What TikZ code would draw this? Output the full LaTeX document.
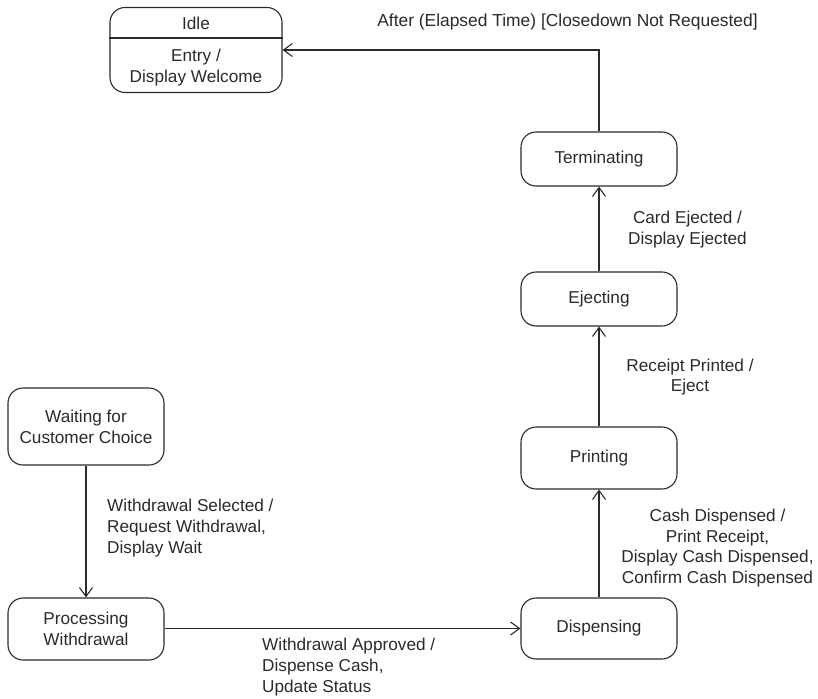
\documentclass[tikz,border=0pt]{standalone}
\usepackage{fontspec}
\setmainfont{Liberation Sans}
\usetikzlibrary{arrows.meta}
\definecolor{ink}{HTML}{2A2A2A}
\begin{document}
\begin{tikzpicture}[x=1pt,y=-1pt,
  every node/.style={font=\fontsize{17.2}{20.7}\selectfont, text=ink},
  statebox/.style={draw=ink, line width=1.1pt, rounded corners=15pt, minimum width=156pt, minimum height=55pt, align=center, inner sep=0pt},
  lbl/.style={align=center, inner sep=0pt},
  lbll/.style={align=left, inner sep=0pt, anchor=west},
  arr/.style={draw=ink, line width=1.1pt, -{Straight Barb[length=9pt,width=13pt,line width=1.1pt]}}]
\useasboundingbox (0,0) rectangle (818,698);
% Idle
\node[statebox, minimum width=172pt, minimum height=85pt] (idle) at (196,50) {};
\node[lbl] (idletitle) at (196,23) {Idle};
\node[lbl] (idleentry) at (196,67.5) {Entry /\\Display Welcome};
\draw[ink, line width=1.1pt] (idle.west |- 0,38) coordinate (dl) -- (idle.east |- 0,38) coordinate (dr);
% states
\node[statebox, minimum height=54pt] (term) at (599,159) {Terminating};
\node[statebox, minimum height=54pt] (eject) at (599,299) {Ejecting};
\node[statebox, minimum height=62pt] (print) at (599,458) {Printing};
\node[statebox, minimum height=61pt] (disp) at (599,628.5) {Dispensing};
\node[statebox, minimum height=77pt] (wait) at (86,426.5) {Waiting for\\Customer Choice};
\node[statebox, minimum height=62pt] (proc) at (86,629) {Processing\\Withdrawal};
% transitions
\draw[arr] (term.north) |- (idle.east);
\draw[arr] (eject) -- (term);
\draw[arr] (print) -- (eject);
\draw[arr] (disp) -- (print);
\draw[arr] (wait) -- (proc);
\draw[arr] (proc.east |- 0,628.5) -- (disp.west);
% labels
\node[lbl, font=\fontsize{17.4}{20.7}\selectfont] (l1) at (567.5,22) {After (Elapsed Time) [Closedown Not Requested]};
\node[lbl] (l2) at (687.5,229.5) {Card Ejected /\\Display Ejected};
\node[lbl] (l3) at (690,377) {Receipt Printed /\\Eject};
\node[lbl] (l4) at (717.5,548) {Cash Dispensed /\\Print Receipt,\\Display Cash Dispensed,\\Confirm Cash Dispensed};
\node[lbll] (l5) at (107,528) {Withdrawal Selected /\\Request Withdrawal,\\Display Wait};
\node[lbll] (l6) at (262,667) {Withdrawal Approved /\\Dispense Cash,\\Update Status};
\end{tikzpicture}
\end{document}
